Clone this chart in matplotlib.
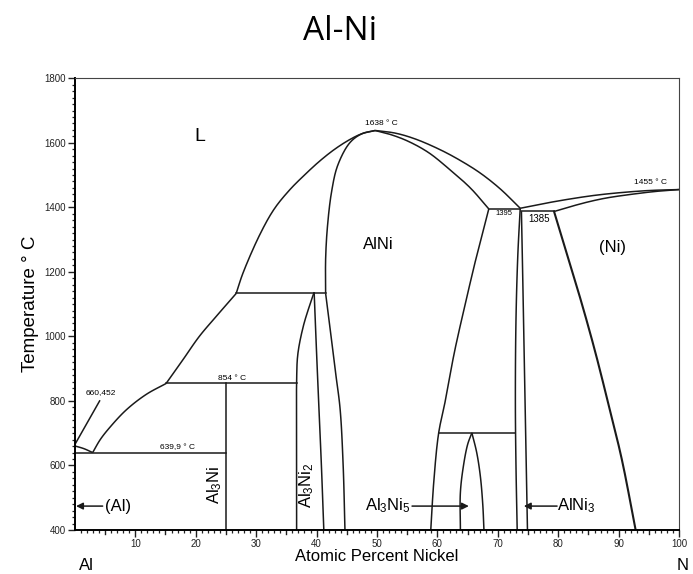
import matplotlib
matplotlib.use("Agg")
import matplotlib.pyplot as plt
import numpy as np
from matplotlib.ticker import MultipleLocator, FixedLocator

plt.rcParams['font.family'] = ['Liberation Sans', 'DejaVu Sans']
plt.rcParams['mathtext.default'] = 'regular'

# phase boundaries, (at.% Ni, T in C)
liq_al = [(0, 660.452), (1.5, 652), (2.95, 639.9)]
liq_al3ni = [(2.95, 639.9), (4.2, 680), (5.7, 716), (8.5, 772), (11.8, 820), (15.1, 854)]
liq_al3ni2 = [(15.1, 854), (17.9, 928), (20.6, 1000), (23.4, 1062), (26.7, 1133)]
liq_alni_l = [(26.7, 1133), (27.8, 1195), (30.6, 1315), (33, 1395), (35.6, 1455),
              (38, 1500), (40.5, 1543), (43, 1580), (45.5, 1610), (47.5, 1628), (49.7, 1638)]
liq_alni_r = [(49.7, 1638), (53, 1630), (56.3, 1612), (60.4, 1579), (63.8, 1545),
              (67.1, 1506), (70.4, 1457), (73.7, 1397)]
sol_alni_r = [(49.7, 1638), (52, 1627), (55, 1606), (58.5, 1570), (62.1, 1516),
              (65.5, 1459), (68.5, 1395)]
sol_alni_l = [(49.7, 1638), (47.5, 1628), (45.5, 1600), (43.5, 1530), (42.5, 1450),
              (41.8, 1340), (41.5, 1240), (41.5, 1133)]
alni_left = [(41.5, 1133), (42.4, 1000), (43.2, 880), (43.9, 774), (44.4, 600), (44.7, 400)]
alni_right = [(68.5, 1395), (66.5, 1250), (64.6, 1100), (62.8, 950), (61.3, 800),
              (60.2, 700), (59.4, 550), (58.9, 400)]
al3ni2_left = [(36.7, 400), (36.7, 700), (36.7, 860), (36.9, 945), (37.8, 1031),
               (38.8, 1093), (39.6, 1137)]
al3ni2_right = [(39.6, 1137), (40.0, 950), (40.4, 774), (40.8, 600), (41.2, 400)]
al3ni5_left = [(63.8, 400), (63.8, 516), (64.3, 598), (65.0, 665), (65.7, 701)]
al3ni5_right = [(65.7, 701), (66.5, 640), (67.1, 567), (67.5, 480), (67.7, 400)]
alni3_left = [(73.7, 1397), (73.3, 1250), (73.0, 1050), (72.9, 800), (73.0, 600), (73.2, 400)]
alni3_right = [(73.9, 1388), (74.1, 1200), (74.4, 900), (74.7, 600), (74.9, 400)]
ni_solvus = [(79.3, 1387), (81.5, 1250), (83.7, 1114), (86, 960), (88.1, 805),
             (90.5, 620), (92.8, 400)]
liq_ni = [(73.7, 1397), (78, 1413), (82, 1426), (86, 1437), (90, 1445), (95, 1452), (100, 1455)]
sol_ni = [(79.3, 1387), (82, 1402), (85, 1417), (88, 1429), (92, 1440), (96, 1449), (100, 1455)]

# invariant lines
isotherms = [
    (0, 25, 639.9),
    (15.1, 36.7, 854),
    (26.7, 41.5, 1133),
    (68.5, 73.7, 1395),
    (73.9, 79.3, 1387),
    (60.2, 72.9, 701),
]
al3ni_line = (25, 400, 854)

curves = [liq_al, liq_al3ni, liq_al3ni2, liq_alni_l, liq_alni_r, sol_alni_r, sol_alni_l,
          alni_left, alni_right, al3ni2_left, al3ni2_right, al3ni5_left, al3ni5_right,
          alni3_left, alni3_right, liq_ni, sol_ni]


def smooth(pts, n=24, alpha=0.5):
    # centripetal catmull-rom through the points, scaled so x and T weigh alike
    sc = np.array([6.03, 0.3232])
    q = np.array(pts, dtype=float) * sc
    q = np.vstack([2 * q[0] - q[1], q, 2 * q[-1] - q[-2]])
    out = [q[1]]
    for i in range(1, len(q) - 2):
        P = q[i - 1:i + 3]
        tk = [0.0]
        for j in range(3):
            tk.append(tk[-1] + max(np.linalg.norm(P[j + 1] - P[j]), 1e-6) ** alpha)
        t0, t1, t2, t3 = tk
        t = np.linspace(t1, t2, n)[1:, None]
        A1 = (t1 - t) / (t1 - t0) * P[0] + (t - t0) / (t1 - t0) * P[1]
        A2 = (t2 - t) / (t2 - t1) * P[1] + (t - t1) / (t2 - t1) * P[2]
        A3 = (t3 - t) / (t3 - t2) * P[2] + (t - t2) / (t3 - t2) * P[3]
        B1 = (t2 - t) / (t2 - t0) * A1 + (t - t0) / (t2 - t0) * A2
        B2 = (t3 - t) / (t3 - t1) * A2 + (t - t1) / (t3 - t1) * A3
        out.extend((t2 - t) / (t2 - t1) * B1 + (t - t1) / (t2 - t1) * B2)
    return np.array(out) / sc


fig = plt.figure(figsize=(6.93, 5.74), dpi=100)
ax = fig.add_axes([0.108, 0.0767, 0.872, 0.787])

lw = 1.1
ink = '#1a1a1a'
for c in curves:
    s = smooth(c)
    ax.plot(s[:, 0], s[:, 1], color=ink, lw=lw, solid_capstyle='butt')
s = smooth(ni_solvus)
ax.plot(s[:, 0], s[:, 1], color=ink, lw=1.5)
for x0, x1, t in isotherms:
    ax.plot([x0, x1], [t, t], color=ink, lw=lw)
ax.plot([al3ni_line[0]] * 2, al3ni_line[1:], color=ink, lw=lw)

ax.set_xlim(0, 100)
ax.set_ylim(400, 1800)
ax.set_xticks(range(10, 101, 10))
ax.xaxis.set_minor_locator(FixedLocator([v for v in range(1, 100) if v % 5]))
ax.yaxis.set_major_locator(MultipleLocator(200))
ax.yaxis.set_minor_locator(MultipleLocator(20))
ax.tick_params(which='major', direction='out', length=5, width=1.0, labelsize=7, pad=1.5,
               colors='#222222')
ax.tick_params(which='minor', direction='out', length=2.5, width=0.9, colors='#222222')
# medium ticks every 5
for xm in range(5, 100, 10):
    ax.plot([xm, xm], [400, 389], color='#222222', lw=1.0, clip_on=False)

for sp in ['left', 'bottom']:
    ax.spines[sp].set_linewidth(1.4)
for sp in ['top', 'right']:
    ax.spines[sp].set_linewidth(0.8)
    ax.spines[sp].set_color('#444444')

ax.set_xlabel('Atomic Percent Nickel', fontsize=12, labelpad=0)
ax.set_ylabel('Temperature ° C', fontsize=13.5, labelpad=4)
fig.text(0.49, 0.945, 'Al-Ni', ha='center', va='center', fontsize=24,
         family=['Open Sans', 'DejaVu Sans'])
fig.text(86 / 693, 1 - 565 / 574, 'Al', ha='center', va='center', fontsize=12)
fig.text(683 / 693, 1 - 565 / 574, 'N', ha='center', va='center', fontsize=12)

# field labels
ax.text(20.7, 1618, 'L', fontsize=14, ha='center', va='center')
ax.text(50.2, 1285, 'AlNi', fontsize=12, ha='center', va='center')
ax.text(89, 1275, '(Ni)', fontsize=12, ha='center', va='center')

small = dict(fontsize=6, ha='center', va='center')
ax.text(50.8, 1659, '1638 ° C', **small)
ax.text(95.3, 1476, '1455 ° C', **small)
ax.text(71.0, 1380, '1395', fontsize=5.5, ha='center', va='center')
ax.text(76.8, 1363, '1385', fontsize=7, ha='center', va='center')
ax.text(26.0, 870, '854 ° C', **small)
ax.text(4.3, 825, '660,452', **small)
ax.text(17.0, 656, '639,9 ° C', **small)
ax.plot([0.1, 4.1], [668, 800], color=ink, lw=lw)

ax.text(23.2, 540, r'Al$_3$Ni', fontsize=12, rotation=90, ha='center', va='center')
ax.text(38.3, 540, r'Al$_3$Ni$_2$', fontsize=12, rotation=90, ha='center', va='center')

arrow = dict(arrowstyle='-|>', color=ink, lw=1.1, mutation_scale=10,
             shrinkA=0, shrinkB=0)
ax.annotate('', xy=(0.2, 474), xytext=(4.6, 474), arrowprops=arrow)
ax.text(5.0, 474, '(Al)', fontsize=12, ha='left', va='center')
ax.annotate('', xy=(65.2, 474), xytext=(55.8, 474), arrowprops=arrow)
ax.text(55.5, 474, r'Al$_3$Ni$_5$', fontsize=12, ha='right', va='center')
ax.annotate('', xy=(74.3, 474), xytext=(79.8, 474), arrowprops=arrow)
ax.text(79.8, 474, r'AlNi$_3$', fontsize=12, ha='left', va='center')

fig.savefig('out.png', dpi=100)
